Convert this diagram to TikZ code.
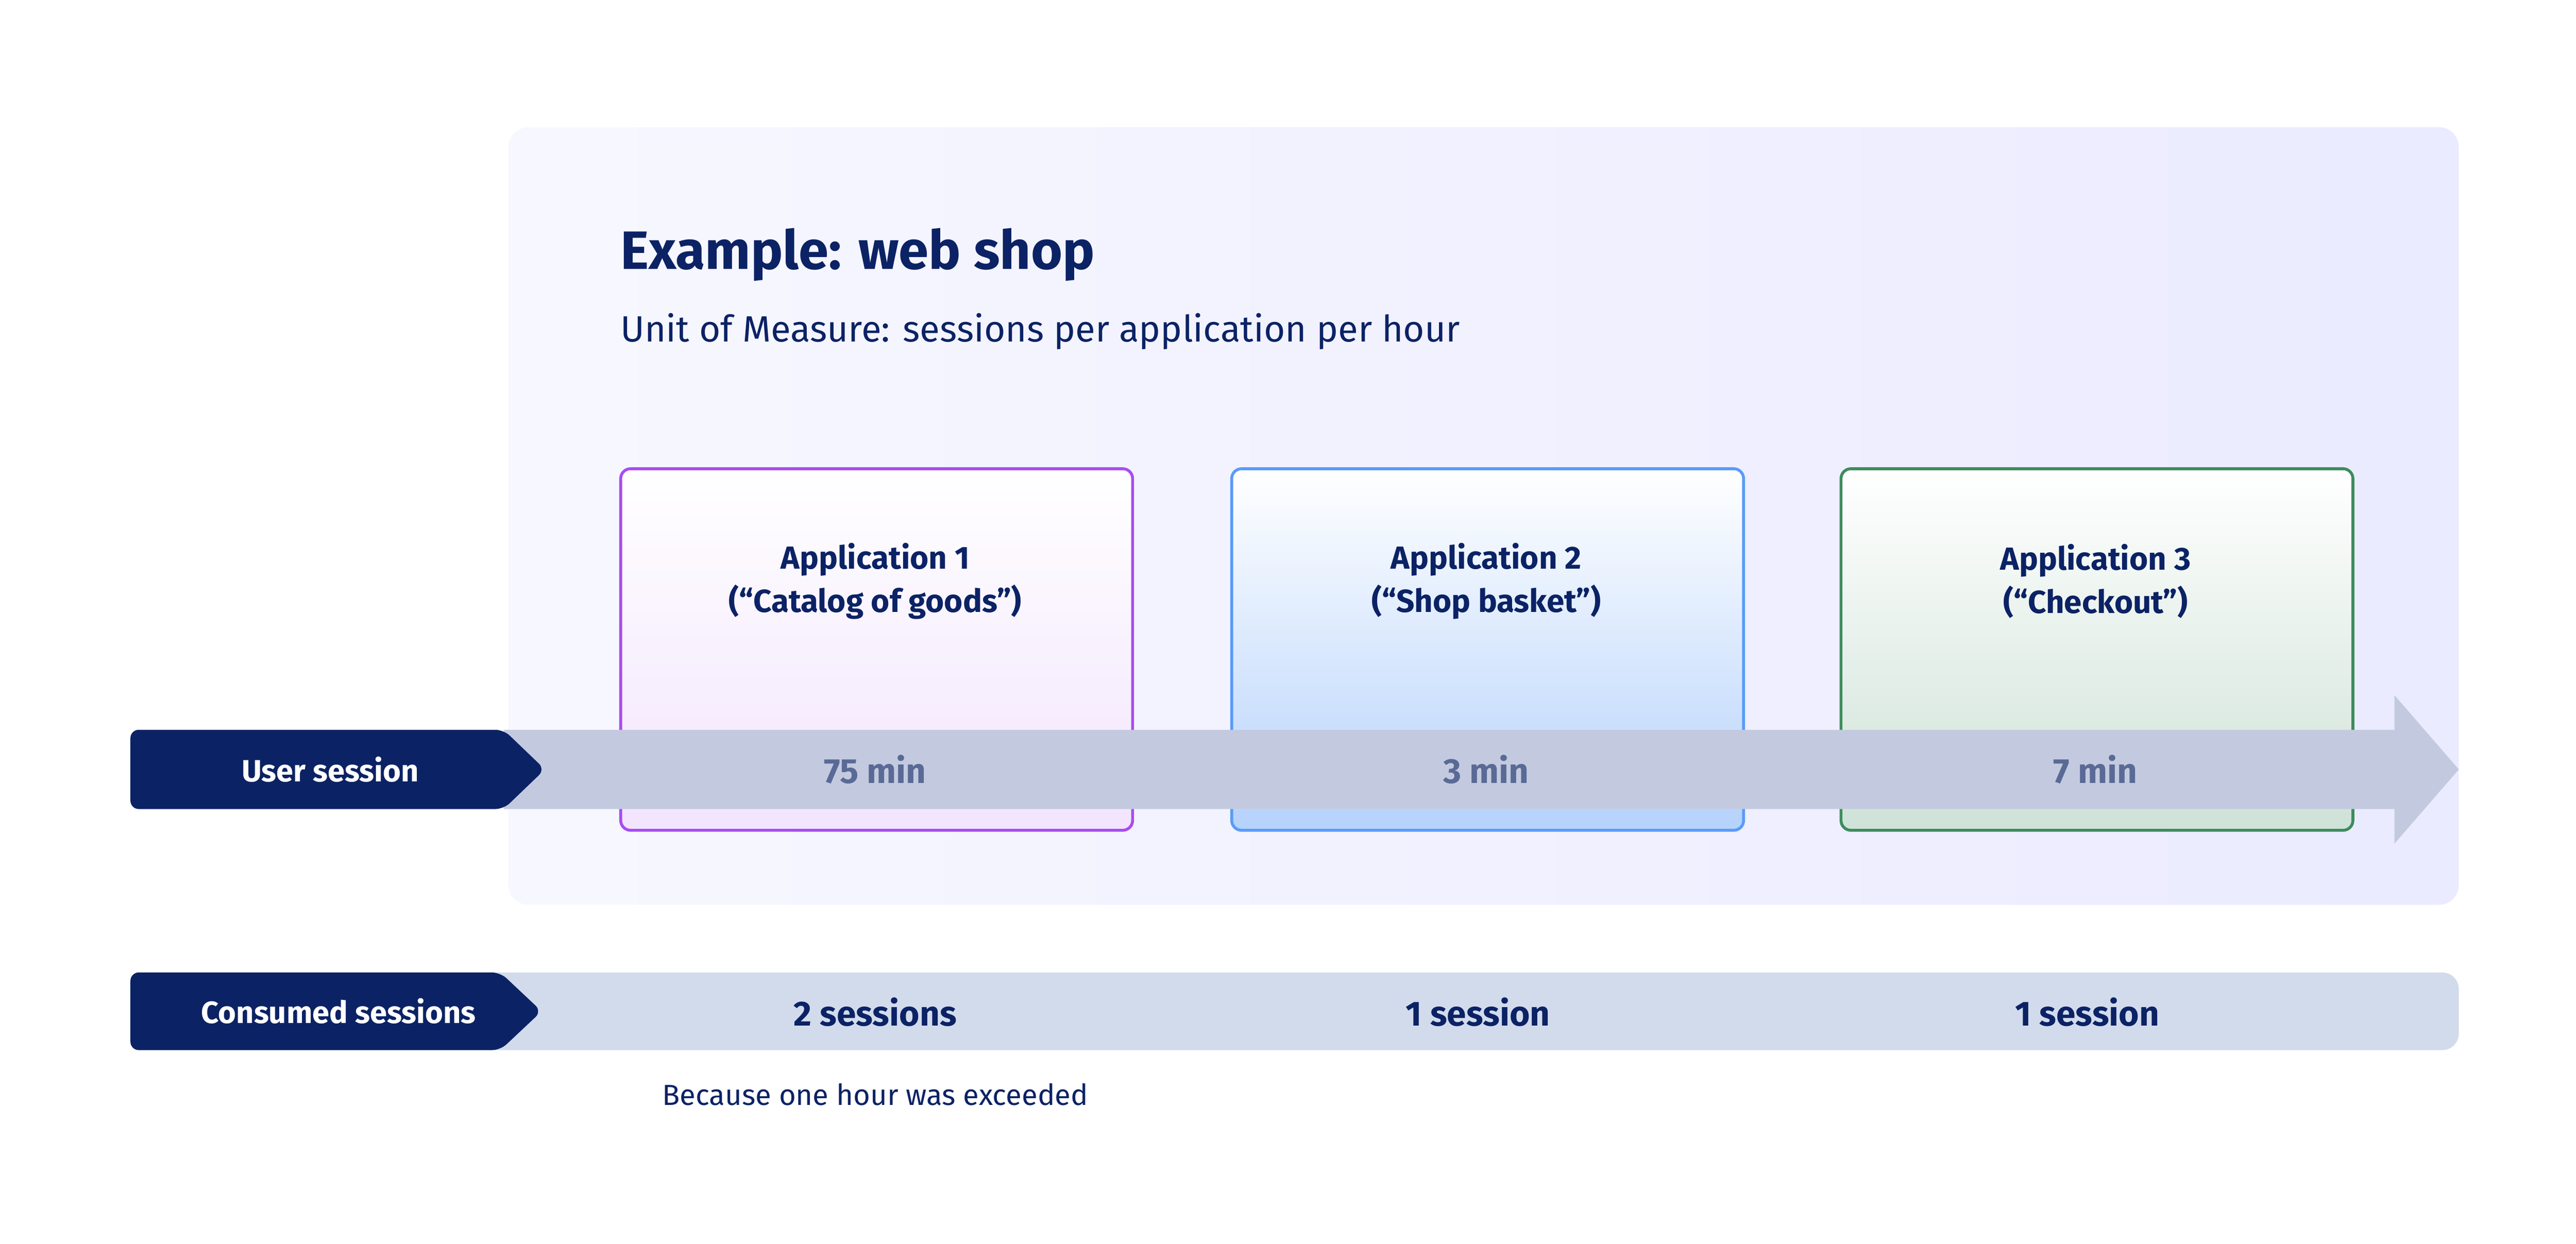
\documentclass[tikz,border=0pt]{standalone}
\usepackage{fontspec}
\setmainfont{Fira Sans}
\usetikzlibrary{positioning}
\definecolor{navy}{HTML}{0B2265}
\definecolor{band}{HTML}{C3CADF}
\definecolor{bandlight}{HTML}{D2DBEC}
\definecolor{mintext}{HTML}{5A6A96}
\definecolor{purpleline}{HTML}{A94CF0}
\definecolor{blueline}{HTML}{5B9BF7}
\definecolor{greenline}{HTML}{3E8B5E}
\tikzset{
  appbox/.style={draw, rounded corners=0.6mm, line width=0.5pt, minimum width=3.1cm, minimum height=2.19cm, anchor=north west},
  apptext/.style={font=\fontsize{5.5}{7.5}\selectfont\bfseries, text=navy, align=center},
  mintxt/.style={font=\fontsize{6}{7}\selectfont\bfseries, text=mintext},
  sesstxt/.style={font=\fontsize{6}{7}\selectfont\bfseries, text=navy},
  tagtxt/.style={font=\fontsize{5.3}{6}\selectfont\bfseries, text=white}
}
\begin{document}
\begin{tikzpicture}[x=1cm,y=-1cm]
\useasboundingbox (0,0) rectangle (15.6,7.532);
% background panel
\shade[left color=blue!3!white, right color=blue!8!white, rounded corners=1.2mm] (3.08,0.77) rectangle (14.89,5.48);
\node[anchor=base west, font=\fontsize{9.3}{11}\selectfont\bfseries, text=navy, inner sep=0] (title) at (3.75,1.63) {Example: web shop};
\node[anchor=base west, font=\fontsize{6.3}{8}\selectfont, text=navy, inner sep=0] (unit) at (3.75,2.07) {Unit of Measure: sessions per application per hour};
%% Applications
\node[appbox, draw=purpleline, top color=white, bottom color=purpleline!15!white] (app1) at (3.75,2.83) {};
\node[appbox, draw=blueline, top color=white, bottom color=blueline!45!white] (app2) at (7.45,2.83) {};
\node[appbox, draw=greenline, top color=white, bottom color=greenline!25!white] (app3) at (11.14,2.83) {};
\node[apptext] (t1) at (5.30,3.52) {Application 1\\(“Catalog of goods”)};
\node[apptext] (t2) at (9.00,3.52) {Application 2\\(“Shop basket”)};
\node[apptext] (t3) at (12.69,3.52) {Application 3\\(“Checkout”)};
%% User session arrow
\fill[band] (3.05,4.42) -- (14.50,4.42) -- (14.50,4.21) -- (14.89,4.66) -- (14.50,5.11) -- (14.50,4.90) -- (3.05,4.90) -- cycle;
\fill[navy, rounded corners=0.5mm] (3.30,4.66) -- (3.05,4.42) -- (0.79,4.42) -- (0.79,4.90) -- (3.05,4.90) -- cycle;
\node[tagtxt] (user) at (2.00,4.66) {User session};
\node[mintxt] (m1) at (5.30,4.66) {75 min};
\node[mintxt] (m2) at (9.00,4.66) {3 min};
\node[mintxt] (m3) at (12.69,4.66) {7 min};
%% Consumed sessions
\fill[bandlight, rounded corners=1mm] (2.9,5.89) rectangle (14.89,6.36);
\fill[navy, rounded corners=0.5mm] (3.28,6.125) -- (3.03,5.89) -- (0.79,5.89) -- (0.79,6.36) -- (3.03,6.36) -- cycle;
\node[tagtxt] (cons) at (2.05,6.125) {Consumed sessions};
\node[sesstxt] (s1) at (5.30,6.13) {2 sessions};
\node[sesstxt] (s2) at (8.95,6.13) {1 session};
\node[sesstxt] (s3) at (12.64,6.13) {1 session};
\node[font=\fontsize{5}{6}\selectfont, text=navy] (note) at (5.30,6.63) {Because one hour was exceeded};
\end{tikzpicture}
\end{document}
